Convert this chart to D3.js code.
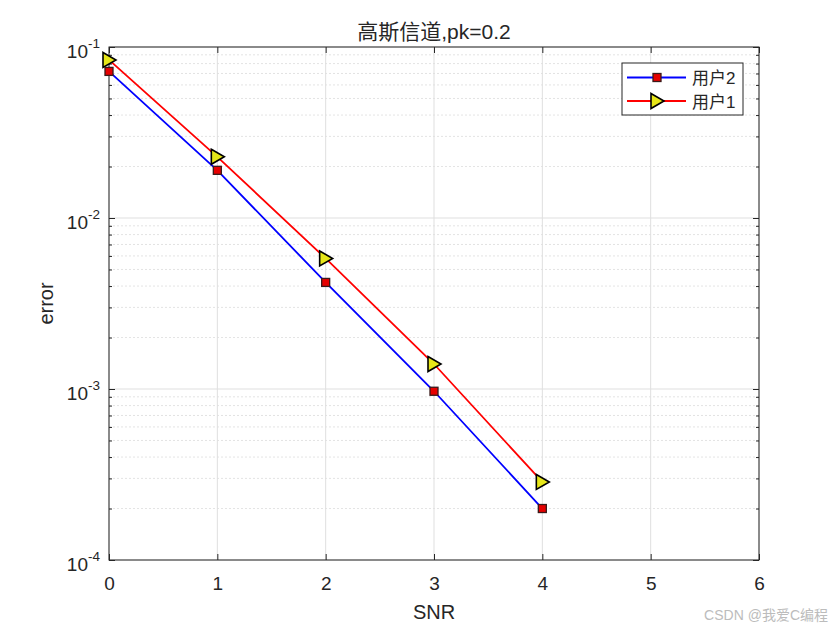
<!DOCTYPE html>
<html>
<head>
<meta charset="utf-8">
<script src="https://cdn.jsdelivr.net/npm/d3@7"></script>
<style>
  body { margin: 0; background: #fff; }
  svg { display: block; }
  text { font-family: Arial, "Liberation Sans", "Noto Sans CJK SC", sans-serif; fill: #262626; }
</style>
</head>
<body>
<svg width="840" height="630"></svg>
<script>
var snr = [0, 1, 2, 3, 4];
var user2 = [0.072, 0.019, 0.0042, 0.00097, 0.0002];
var user1 = [0.084, 0.0228, 0.0058, 0.0014, 0.000286];
var xTicks = [0, 1, 2, 3, 4, 5, 6];
var yTicks = [1e-4, 1e-3, 1e-2, 1e-1];
var yExps = ["-4", "-3", "-2", "-1"];
var legendNames = ["用户2", "用户1"];

var svg = d3.select("svg");
var margin = {top: 47, right: 81, bottom: 70, left: 109};
var width = svg.attr("width") - margin.left - margin.right;
var height = svg.attr("height") - margin.top - margin.bottom;
var g = svg.append("g").attr("transform", "translate(" + margin.left + "," + margin.top + ")");

var x = d3.scaleLinear().domain([0, 6]).range([0, width]);
var y = d3.scaleLog().domain([1e-4, 1e-1]).range([height, 0]);

// minor y values
var minor = [];
[1e-4, 1e-3, 1e-2].forEach(function(d) {
  for (var k = 2; k <= 9; k++) minor.push(d * k);
});

// grid
g.selectAll(".gminor").data(minor).enter().append("line")
  .attr("x1", 0).attr("x2", width)
  .attr("y1", function(d) { return y(d); }).attr("y2", function(d) { return y(d); })
  .attr("stroke", "#dcdcdc").attr("stroke-width", 0.8).attr("stroke-dasharray", "2,2");
g.selectAll(".gmajy").data(yTicks).enter().append("line")
  .attr("x1", 0).attr("x2", width)
  .attr("y1", function(d) { return y(d); }).attr("y2", function(d) { return y(d); })
  .attr("stroke", "#dfdfdf").attr("stroke-width", 1);
g.selectAll(".gmajx").data(xTicks).enter().append("line")
  .attr("y1", 0).attr("y2", height)
  .attr("x1", function(d) { return x(d); }).attr("x2", function(d) { return x(d); })
  .attr("stroke", "#dfdfdf").attr("stroke-width", 1);

// axes with inward ticks
var ax = g.append("g").attr("transform", "translate(0," + height + ")")
  .call(d3.axisBottom(x).tickValues(xTicks).tickFormat(d3.format("d"))
    .tickSizeInner(-6).tickSizeOuter(0).tickPadding(17));
var axTop = g.append("g")
  .call(d3.axisTop(x).tickValues(xTicks).tickSizeInner(-6).tickSizeOuter(0).tickFormat(""));
var ay = g.append("g")
  .call(d3.axisLeft(y).tickValues(yTicks).tickSizeInner(-6).tickSizeOuter(0).tickFormat(""));
var ayR = g.append("g").attr("transform", "translate(" + width + ",0)")
  .call(d3.axisRight(y).tickValues(yTicks).tickSizeInner(-6).tickSizeOuter(0).tickFormat(""));
var ayMinL = g.append("g")
  .call(d3.axisLeft(y).tickValues(minor).tickSizeInner(-3).tickSizeOuter(0).tickFormat(""));
var ayMinR = g.append("g").attr("transform", "translate(" + width + ",0)")
  .call(d3.axisRight(y).tickValues(minor).tickSizeInner(-3).tickSizeOuter(0).tickFormat(""));
[ax, axTop, ay, ayR, ayMinL, ayMinR].forEach(function(a) {
  a.selectAll("path").remove();
  a.selectAll("line").attr("stroke", "#262626").attr("stroke-width", 1);
});
ax.selectAll("text").style("font-size", "19px").attr("fill", "#262626")
  .style("font-family", "Arial, 'Liberation Sans', sans-serif");

// y tick labels 10^n
g.selectAll(".ylab").data(yTicks).enter().append("text")
  .attr("x", -9).attr("y", function(d) { return y(d) + 11; })
  .attr("text-anchor", "end")
  .style("font-size", "19px")
  .each(function(d, i) {
    var t = d3.select(this);
    t.append("tspan").text("10");
    t.append("tspan").attr("dy", -10).style("font-size", "13.5px").text(yExps[i]);
  });

// box
g.append("rect").attr("width", width).attr("height", height)
  .attr("fill", "none").attr("stroke", "#262626").attr("stroke-width", 1);

var line = d3.line()
  .x(function(d, i) { return x(snr[i]); })
  .y(function(d) { return y(d); });

function tri(cx, cy) {
  return "M" + (cx - 6) + "," + (cy - 7.5) + "L" + (cx + 7) + "," + cy + "L" + (cx - 6) + "," + (cy + 7.5) + "Z";
}

g.append("path").datum(user2).attr("d", line)
  .attr("fill", "none").attr("stroke", "#0000ff").attr("stroke-width", 1.8);
g.append("path").datum(user1).attr("d", line)
  .attr("fill", "none").attr("stroke", "#ff0000").attr("stroke-width", 1.8);

g.selectAll(".sq").data(user2).enter().append("rect")
  .attr("x", function(d, i) { return x(snr[i]) - 4; })
  .attr("y", function(d) { return y(d) - 4; })
  .attr("width", 8).attr("height", 8)
  .attr("fill", "#e60000").attr("stroke", "#3a1a1a").attr("stroke-width", 1.3);
g.selectAll(".tri").data(user1).enter().append("path")
  .attr("d", function(d, i) { return tri(x(snr[i]), y(d)); })
  .attr("fill", "#e6e619").attr("stroke", "#000").attr("stroke-width", 1.6);

// legend
var lg = svg.append("g").attr("transform", "translate(622,63)");
lg.append("rect").attr("width", 121).attr("height", 52)
  .attr("fill", "#fff").attr("stroke", "#262626").attr("stroke-width", 1);
legendNames.forEach(function(name, i) {
  var yy = 14.5 + i * 23.5;
  lg.append("line").attr("x1", 5).attr("x2", 64).attr("y1", yy).attr("y2", yy)
    .attr("stroke", i === 0 ? "#0000ff" : "#ff0000").attr("stroke-width", 1.8);
  if (i === 0) {
    lg.append("rect").attr("x", 31).attr("y", yy - 4).attr("width", 8).attr("height", 8)
      .attr("fill", "#e60000").attr("stroke", "#3a1a1a").attr("stroke-width", 1.3);
  } else {
    lg.append("path").attr("d", tri(35, yy))
      .attr("fill", "#e6e619").attr("stroke", "#000").attr("stroke-width", 1.6);
  }
  lg.append("text").attr("x", 70).attr("y", yy + 6.5).style("font-size", "17px").text(name);
});

// title and labels
svg.append("text").attr("x", margin.left + width / 2).attr("y", 39)
  .attr("text-anchor", "middle").style("font-size", "21px").text("高斯信道,pk=0.2");
svg.append("text").attr("x", margin.left + width / 2).attr("y", 619)
  .attr("text-anchor", "middle").style("font-size", "20px").text("SNR");
svg.append("text").attr("transform", "translate(53," + (margin.top + height / 2) + ") rotate(-90)")
  .attr("text-anchor", "middle").style("font-size", "20px").text("error");

// watermark
svg.append("text").attr("x", 828).attr("y", 620).attr("text-anchor", "end")
  .style("font-size", "14px").style("fill", "#bcbcbc").text("CSDN @我爱C编程");
</script>
</body>
</html>
